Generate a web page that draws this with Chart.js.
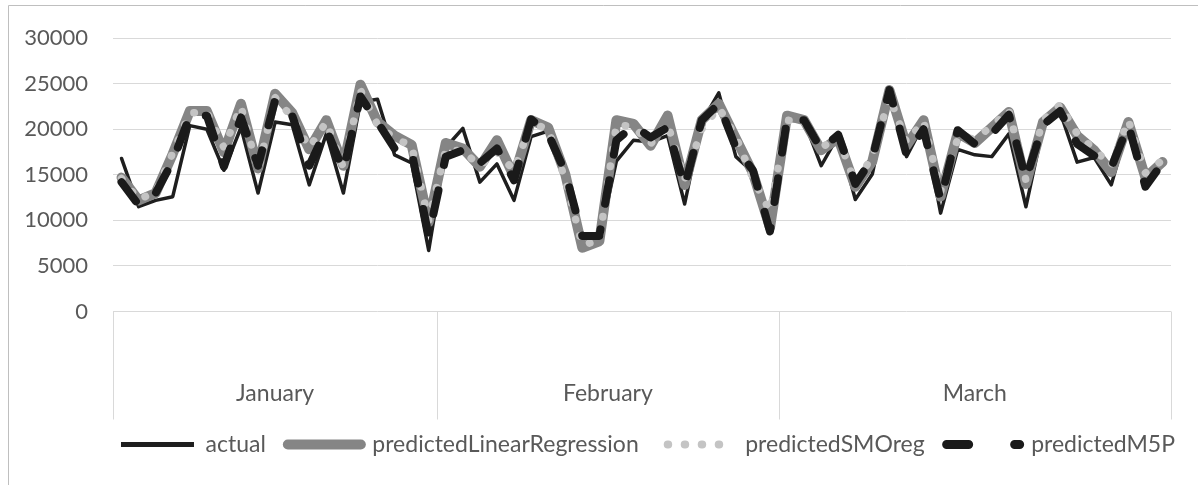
<!DOCTYPE html>
<html>
<head>
<meta charset="utf-8">
<script src="https://cdn.jsdelivr.net/npm/chart.js@4/dist/chart.umd.min.js"></script>
<style>
  html, body { margin: 0; padding: 0; background: #ffffff; }
  #wrap { width: 1198px; height: 485px; }
</style>
</head>
<body>
<div id="wrap"><canvas id="c" width="1198" height="485"></canvas></div>
<script>
// ---- data ----
const months = ['January', 'February', 'March'];
const pointsPerMonth = [19, 20, 23];
const seriesNames = ['actual', 'predictedLinearRegression', 'predictedSMOreg', 'predictedM5P'];
const yTickMin = 0;
const yTickMax = 30000;
const yTickStep = 5000;

const actual = [
  16800, 11500, 12200, 12600, 20400, 20000, 15500, 20200, 13000, 20800, 20500, 13900, 19500, 13000, 23000, 23300, 17200, 16300, 6700,
  18000, 20100, 14200, 16200, 12200, 19200, 19800, 15300, 7500, 7900, 16500, 18800, 18600, 19300, 11800, 20800, 24000, 17000, 15300, 8700,
  21000, 20900, 16000, 19300, 12300, 15100, 24000, 17000, 20600, 10800, 17800, 17200, 17000, 19500, 11500, 20200, 21900, 16400, 16900, 13900, 20500, 13900, 16100
];
const predictedLinearRegression = [
  14700, 12200, 13000, 17300, 22000, 22000, 17500, 22800, 15700, 23900, 21800, 17800, 21000, 16000, 24900, 20800, 19300, 18300, 9800,
  18500, 17900, 15900, 18800, 14800, 21000, 20200, 15100, 7000, 7700, 21000, 20600, 18200, 21500, 13900, 21000, 22800, 19000, 15200, 9200,
  21500, 21000, 17700, 19000, 13700, 16500, 24300, 18200, 21000, 12600, 19600, 18500, 20200, 21900, 14000, 20800, 22400, 19300, 17700, 15300, 20800, 14700, 16400
];
const predictedSMOreg = [
  14600, 12300, 13100, 17400, 21800, 21900, 18000, 22500, 15500, 23500, 21300, 18000, 20800, 15800, 24300, 20500, 19000, 18200, 10000,
  17800, 17600, 16000, 17500, 15500, 20700, 20000, 14500, 7300, 7800, 20500, 20300, 18400, 20600, 14500, 20000, 22400, 19200, 14600, 11000,
  21000, 20800, 18000, 19100, 14100, 17000, 23600, 18600, 20900, 13200, 19000, 19000, 20300, 22100, 14400, 21000, 22700, 19500, 17800, 16000, 21000, 15200, 16600
];
const predictedM5P = [
  14200, 11700, 13000, 16500, 21500, 21500, 15900, 21300, 16000, 23200, 21500, 16000, 20000, 15500, 23600, 20800, 17900, 17500, 8300,
  17000, 17700, 16300, 17900, 14400, 21100, 19500, 15300, 8300, 8300, 18800, 20400, 19100, 20200, 13700, 21000, 22800, 18000, 15500, 8800,
  21100, 21000, 17800, 19400, 14000, 16800, 24300, 17200, 20000, 12200, 19900, 18400, 19500, 21600, 14500, 20500, 22000, 18400, 17100, 15800, 20500, 13700, 16300
];

// category labels built from months and counts
const dayLabels = [];
months.forEach((m, mi) => { for (let d = 1; d <= pointsPerMonth[mi]; d++) dayLabels.push(m + ' ' + d); });

const textColor = '#595959';
const gridColor = '#d9d9d9';
const FONT = 'Lato, "Liberation Sans", sans-serif';

const legendStyles = [
  { lineWidth: 5, lineDash: [], lineDashOffset: 0, lineCap: 'butt' },
  { lineWidth: 10, lineDash: [], lineDashOffset: 0, lineCap: 'round' },
  { lineWidth: 8, lineDash: [0.5, 16.5], lineDashOffset: -7, lineCap: 'round' },
  { lineWidth: 9, lineDash: [22, 46], lineDashOffset: 0, lineCap: 'round' }
];

const decor = {
  id: 'decor',
  beforeDraw(chart) {
    const ctx = chart.ctx;
    ctx.save();
    ctx.fillStyle = '#ffffff';
    ctx.fillRect(0, 0, chart.width, chart.height);
    ctx.strokeStyle = '#bfbfbf';
    ctx.lineWidth = 1;
    ctx.beginPath();
    ctx.moveTo(8.5, chart.height);
    ctx.lineTo(8.5, 5.5);
    ctx.lineTo(chart.width, 5.5);
    ctx.stroke();
    ctx.restore();
  },
  afterLayout(chart) {
    const lg = chart.legend;
    if (lg && lg.lineWidths && lg.lineWidths.length) {
      const P = lg.options.labels.padding;
      const start = (lg.left + P + lg.right - lg.lineWidths[0]) / 2;
      const center = start + (lg.lineWidths[0] - P) / 2;
      const shift = 648 - center;
      lg.left += shift;
      lg.right += shift;
    }
  },
  afterDraw(chart) {
    const ctx = chart.ctx;
    const xs = chart.scales.x;
    const bottom = chart.chartArea.bottom;
    const total = dayLabels.length;
    const bounds = [xs.left];
    let idx = 0;
    pointsPerMonth.forEach(c => {
      idx += c;
      if (idx >= total) bounds.push(xs.right);
      else bounds.push((xs.getPixelForValue(idx - 1) + xs.getPixelForValue(idx)) / 2);
    });
    ctx.save();
    ctx.strokeStyle = gridColor;
    ctx.lineWidth = 1;
    bounds.forEach(b => {
      const x = Math.round(b) + 0.5;
      ctx.beginPath();
      ctx.moveTo(x, bottom);
      ctx.lineTo(x, bottom + 108);
      ctx.stroke();
    });
    ctx.fillStyle = textColor;
    ctx.font = '23px ' + FONT;
    ctx.textAlign = 'center';
    ctx.textBaseline = 'middle';
    months.forEach((m, i) => {
      ctx.fillText(m, (bounds[i] + bounds[i + 1]) / 2, bottom + 82);
    });
    ctx.restore();
  }
};

new Chart(document.getElementById('c'), {
  type: 'line',
  data: {
    labels: dayLabels,
    datasets: [
      { label: seriesNames[0], data: actual, borderColor: '#1e1e1e', borderWidth: 3.5, order: 4,
        borderJoinStyle: 'round', borderCapStyle: 'round' },
      { label: seriesNames[1], data: predictedLinearRegression, borderColor: '#858585', borderWidth: 10, order: 3,
        borderJoinStyle: 'round', borderCapStyle: 'round' },
      { label: seriesNames[2], data: predictedSMOreg, borderColor: '#c4c4c4', borderWidth: 7.5, order: 2,
        borderJoinStyle: 'round', borderCapStyle: 'round', borderDash: [0.5, 16.5] },
      { label: seriesNames[3], data: predictedM5P, borderColor: '#1a1a1a', borderWidth: 8, order: 1,
        borderJoinStyle: 'round', borderCapStyle: 'round', borderDash: [24, 26] }
    ]
  },
  options: {
    responsive: false,
    animation: false,
    events: [],
    elements: { point: { radius: 0, hoverRadius: 0 }, line: { tension: 0, fill: false } },
    layout: { padding: { top: 37, right: 27, bottom: 19, left: 0 } },
    scales: {
      x: {
        type: 'category',
        offset: true,
        grid: { display: false, drawTicks: false },
        border: { display: false },
        ticks: { display: false },
        afterFit(scale) { scale.height = 99.5; }
      },
      y: {
        min: yTickMin,
        max: yTickMax,
        ticks: { stepSize: yTickStep, padding: 25, color: textColor, font: { family: FONT, size: 22 },
                 callback: (v) => String(v) },
        grid: { color: gridColor, lineWidth: 1, drawTicks: false },
        border: { display: false },
        afterFit(scale) { scale.width = 113; }
      }
    },
    plugins: {
      tooltip: { enabled: false },
      title: { display: false },
      legend: {
        position: 'bottom',
        labels: {
          usePointStyle: true,
          pointStyleWidth: 73,
          padding: 22,
          color: textColor,
          font: { family: FONT, size: 23 },
          generateLabels(chart) {
            return chart.data.datasets.map((ds, i) => ({
              text: ds.label,
              fillStyle: ds.borderColor,
              strokeStyle: ds.borderColor,
              fontColor: textColor,
              lineWidth: legendStyles[i].lineWidth,
              lineDash: legendStyles[i].lineDash,
              lineDashOffset: legendStyles[i].lineDashOffset,
              lineCap: legendStyles[i].lineCap,
              pointStyle: 'line',
              hidden: false,
              datasetIndex: i
            }));
          }
        }
      }
    }
  },
  plugins: [decor]
});
</script>
</body>
</html>
